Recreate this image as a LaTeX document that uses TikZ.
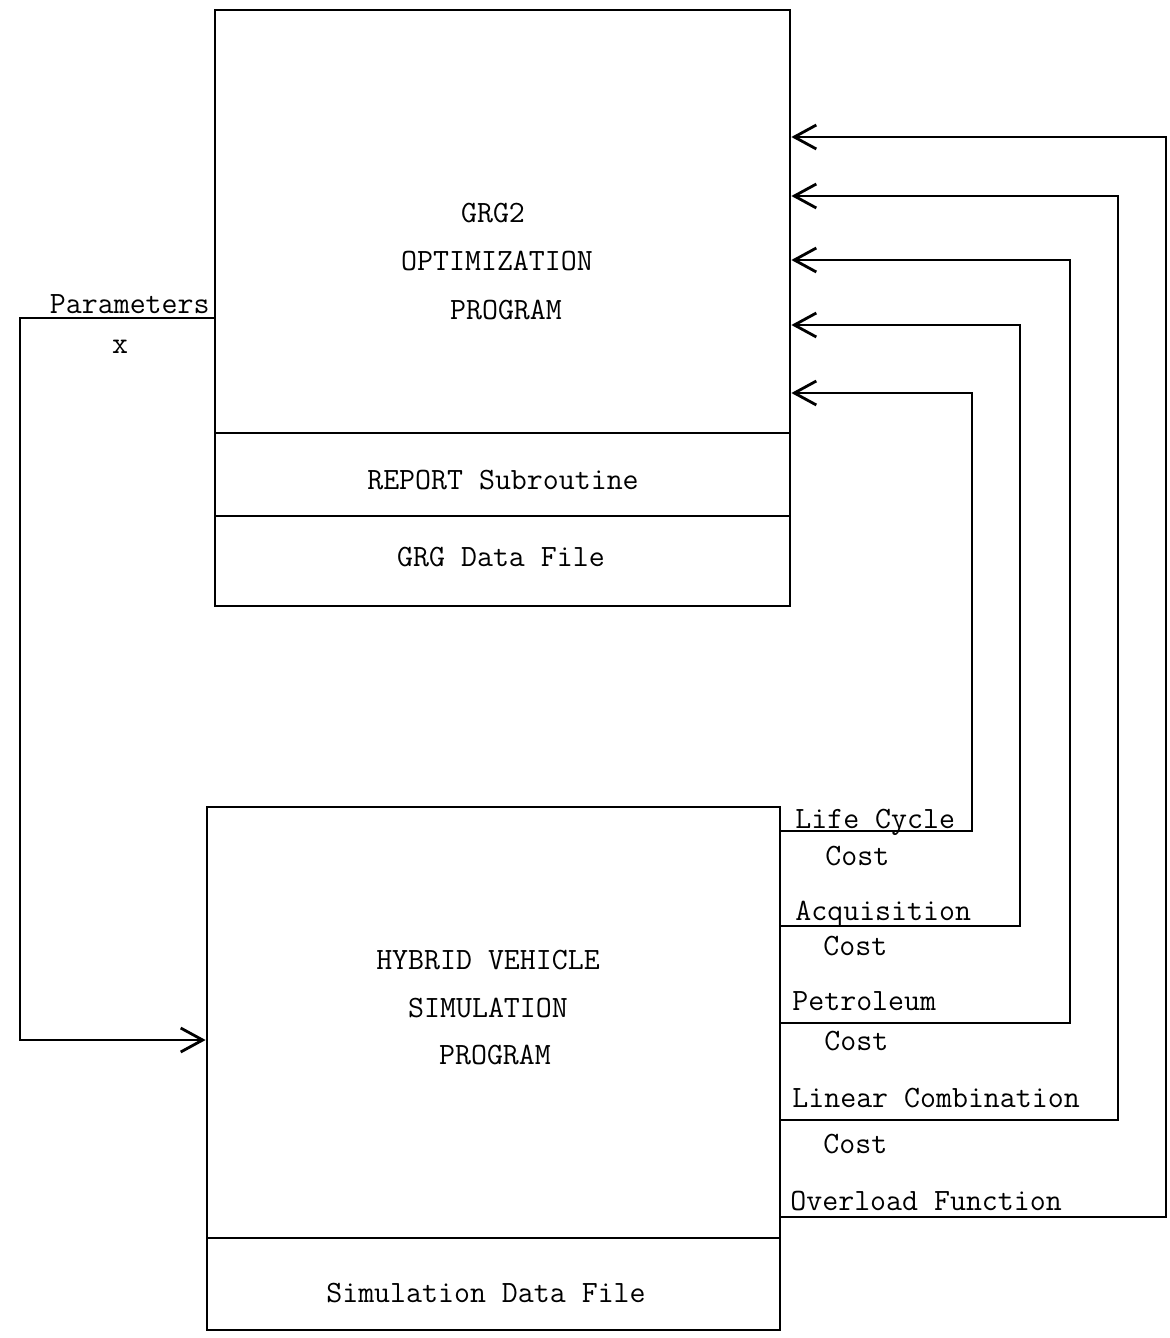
\documentclass[tikz,border=0pt]{standalone}
\usetikzlibrary{arrows.meta}
\begin{document}
\begin{tikzpicture}[x=0.5pt,y=-0.5pt,
  every node/.style={font=\ttfamily\fontsize{15.5}{18}\selectfont},
  box/.style={draw,line width=1.4pt,inner sep=0pt},
  wire/.style={line width=1.4pt,line join=miter},
  arr/.style={wire,-{Straight Barb[length=11pt,width=12pt,line width=1.4pt]}},
  lbl/.style={anchor=base west,inner sep=0pt},
  ctr/.style={anchor=base,inner sep=0pt}]
\useasboundingbox (0,0) rectangle (1170,1338);
% top block
\node[box,minimum width=287.5pt,minimum height=211.5pt] (grgmain) at (502.5,221.5) {};
\node[box,minimum width=287.5pt,minimum height=41.5pt] (report) at (502.5,474.5) {};
\node[box,minimum width=287.5pt,minimum height=45pt] (grgdata) at (502.5,561) {};
\node[ctr] (t1) at (493,222) {GRG2};
\node[ctr] (t2) at (497,270) {OPTIMIZATION};
\node[ctr] (t3) at (506,319) {PROGRAM};
\node[ctr] (t4) at (503,489) {REPORT Subroutine};
\node[ctr] (t5) at (501,566) {GRG Data File};
% bottom block
\node[box,minimum width=286.5pt,minimum height=215.5pt] (sim) at (493.5,1022.5) {};
\node[box,minimum width=286.5pt,minimum height=46pt] (simdata) at (493.5,1284) {};
\node[ctr] (s1) at (488,969) {HYBRID VEHICLE};
\node[ctr] (s2) at (488,1017) {SIMULATION};
\node[ctr] (s3) at (495,1064) {PROGRAM};
\node[ctr] (s4) at (486,1302) {Simulation Data File};
% parameters loop
\coordinate (p1) at (20,318);
\coordinate (p2) at (20,1040);
\draw[arr] (grgmain.west |- p1) -- (p1) -- (p2) -- (sim.west |- p2);
\node[anchor=base east,inner sep=0pt] (par) at (210,313) {Parameters};
\node[ctr] (px) at (120,353) {x};
% feedback loops
\coordinate (a1) at (972,831);  \coordinate (b1) at (972,393);
\coordinate (a2) at (1020,926); \coordinate (b2) at (1020,325);
\coordinate (a3) at (1070,1023);\coordinate (b3) at (1070,260);
\coordinate (a4) at (1118,1120);\coordinate (b4) at (1118,196);
\coordinate (a5) at (1166,1217);\coordinate (b5) at (1166,137);
\draw[arr] (sim.east |- a1) -- (a1) -- (b1) -- (grgmain.east |- b1);
\draw[arr] (sim.east |- a2) -- (a2) -- (b2) -- (grgmain.east |- b2);
\draw[arr] (sim.east |- a3) -- (a3) -- (b3) -- (grgmain.east |- b3);
\draw[arr] (sim.east |- a4) -- (a4) -- (b4) -- (grgmain.east |- b4);
\draw[arr] (sim.east |- a5) -- (a5) -- (b5) -- (grgmain.east |- b5);
% labels
\node[lbl] (l1) at (795,828) {Life Cycle};
\node[lbl] (l1c) at (825,865) {Cost};
\node[lbl] (l2) at (795,920) {Acquisition};
\node[lbl] (l2c) at (823,955) {Cost};
\node[lbl] (l3) at (792,1010) {Petroleum};
\node[lbl] (l3c) at (824,1050) {Cost};
\node[lbl] (l4) at (792,1107) {Linear Combination};
\node[lbl] (l4c) at (823,1153) {Cost};
\node[lbl] (l5) at (790,1210) {Overload Function};
\end{tikzpicture}
\end{document}
